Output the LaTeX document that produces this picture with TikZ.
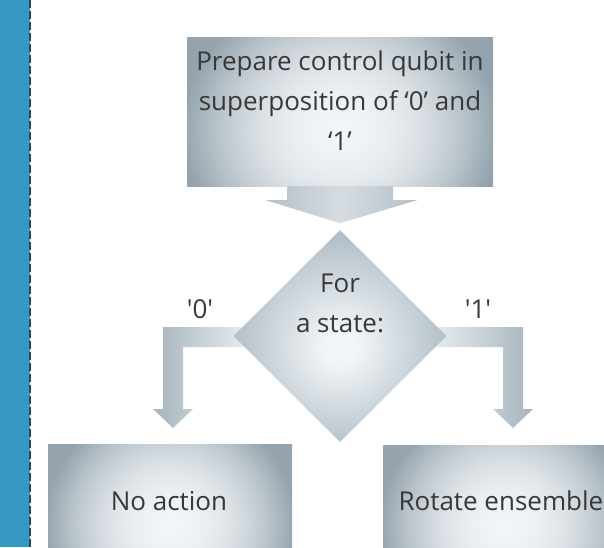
\documentclass[tikz,border=0pt]{standalone}
\usepackage{fontspec}
\setmainfont{Open Sans}
\usetikzlibrary{shapes.geometric,calc}
\definecolor{barblue}{HTML}{3598C5}
\definecolor{dashcol}{HTML}{2E4456}
\definecolor{boxlight}{HTML}{F2F5F7}
\definecolor{diadark}{HTML}{B2BFC8}
\definecolor{arrlight}{HTML}{E9EEF1}
\definecolor{arrdark}{HTML}{A6B4BD}
\definecolor{txt}{HTML}{383838}
\pgfdeclarefunctionalshading{boxglow}{\pgfpoint{-50bp}{-50bp}}{\pgfpoint{50bp}{50bp}}{}{
  6 add 25 div dup mul 0.28 mul exch 25 div dup mul 0.95 mul add
  dup 1 gt {pop 1} if
  dup -0.37 mul 0.95 add exch
  dup -0.32 mul 0.96 add exch
  -0.29 mul 0.97 add}
\pgfdeclareradialshading{diaglow}{\pgfpoint{0bp}{-3bp}}{color(0bp)=(boxlight); color(4bp)=(boxlight); color(25bp)=(diadark); color(50bp)=(diadark)}
\begin{document}
\begin{tikzpicture}[x=1pt,y=-1pt,
  boxnode/.style={rectangle, inner sep=0pt, shade, shading=boxglow},
  dianode/.style={diamond, aspect=1, inner sep=0pt, shade, shading=diaglow},
  txtnode/.style={inner sep=0pt, text=txt, font=\fontsize{26}{40}\selectfont, align=center},
  lblnode/.style={inner sep=0pt, text=txt, font=\fontsize{26}{40}\selectfont, anchor=base}]
\clip (0,0) rectangle (604,547);
\useasboundingbox (0,0) rectangle (604,547);
% side bar
\fill[barblue] (0,0) rectangle (29.5,547);
\draw[dashcol, line width=1.5pt, dash pattern=on 8pt off 3pt] (30,0) -- (30,547);

% nodes
\node[boxnode, minimum width=306, minimum height=149] (prep) at (340,111.5) {};
\node[boxnode, minimum width=244, minimum height=130] (noact) at (170,509) {};
\node[boxnode, minimum width=244, minimum height=130] (rot) at (505,510) {};

% elbow arrows (behind the diamond)
\coordinate (dc) at (340,336);
\shade[left color=arrdark, right color=arrlight]
  ($(dc)+(-90,-9)$) -- ($(dc)+(-177,-9)$) -- ($(dc)+(-177,73)$) -- ($(dc)+(-187,73)$)
  -- ($(dc)+(-167,92)$) -- ($(dc)+(-147,73)$) -- ($(dc)+(-157,73)$) -- ($(dc)+(-157,11)$)
  -- ($(dc)+(-90,11)$) -- cycle;
\shade[right color=arrdark, left color=arrlight]
  ($(dc)+(90,-9)$) -- ($(dc)+(183,-9)$) -- ($(dc)+(183,73)$) -- ($(dc)+(193,73)$)
  -- ($(dc)+(173,92)$) -- ($(dc)+(153,73)$) -- ($(dc)+(163,73)$) -- ($(dc)+(163,11)$)
  -- ($(dc)+(90,11)$) -- cycle;

\node[dianode, minimum width=213, minimum height=212] (dec) at (dc) {};

% down arrow from prep to decision
\shade[left color=arrdark!80!arrlight, right color=arrdark!80!arrlight, middle color=arrlight!70!arrdark]
  ($(prep.south)+(-53,0)$) -- ($(prep.south)+(53,0)$) -- ($(prep.south)+(53,14)$)
  -- ($(prep.south)+(77,14)$) -- ($(prep.south)+(0,37)$) -- ($(prep.south)+(-74,14)$)
  -- ($(prep.south)+(-53,14)$) -- cycle;

% texts
\node[txtnode] (preptext) at (340,100.3) {Prepare control qubit in\\superposition of ‘0’ and\\‘1’};
\node[txtnode] (dectext) at (340,303) {For\\a state:};
\node[lblnode] (l0) at (200,318) {\textquotesingle0\textquotesingle};
\node[lblnode] (l1) at (478,318) {\textquotesingle1\textquotesingle};
\node[lblnode] (noacttext) at (169,510) {No action};
\node[lblnode, anchor=base east] (rottext) at (603.5,510) {Rotate ensemble};
\end{tikzpicture}
\end{document}
